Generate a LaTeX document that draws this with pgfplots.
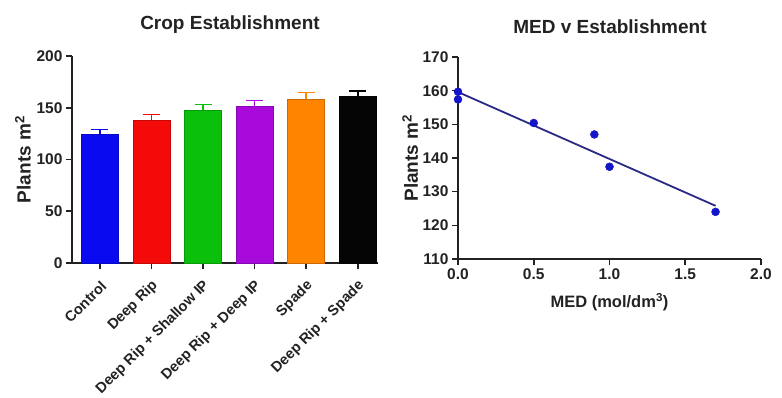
\documentclass[border=0pt]{standalone}
\usepackage{pgfplots}
\pgfplotsset{compat=1.18}
\usepackage{fontspec}
\setmainfont{Liberation Sans}
\definecolor{txt}{HTML}{222222}
\definecolor{cblue}{HTML}{0A0AF0}
\definecolor{cred}{HTML}{F50A0A}
\definecolor{cgreen}{HTML}{0AC00A}
\definecolor{cpurple}{HTML}{A80ADC}
\definecolor{corange}{HTML}{FF8400}
\definecolor{cblack}{HTML}{050505}
\definecolor{cline}{HTML}{2A2A86}
\definecolor{cdot}{HTML}{1414C8}
\begin{document}
\begin{tikzpicture}
\useasboundingbox (0pt,0pt) rectangle (782pt,397pt);
\pgfplotsset{
  gp/.style={scale only axis, axis x line*=bottom, axis y line*=left,
    axis line style={-, line width=1.8pt, color=txt},
    every outer x axis line/.append style={-}, every outer y axis line/.append style={-},
    tick style={line width=1.6pt, color=txt}, major tick length=6pt, tick align=outside,
    ticklabel style={font=\fontsize{15.5}{16}\selectfont\bfseries, text=txt},
    /pgf/number format/assume math mode=true, clip=false},
  gbar/.style={ybar, bar shift=0pt, bar width=37pt, fill=#1, draw=#1!80!black, line width=0.8pt,
    error bars/.cd, y dir=plus, y explicit,
    error bar style={#1, line width=1.6pt, solid},
    error mark options={rotate=90, mark size=8.5pt, line width=1.6pt, #1}}
}
\begin{axis}[gp, at={(72pt,134pt)}, anchor=south west, width=306pt, height=207pt,
  xmin=-0.54, xmax=5.39, ymin=0, ymax=200, ytick={0,50,100,150,200},
  xtick={0,1,2,3,4,5},
  xticklabels={Control, Deep Rip, Deep Rip + Shallow IP, Deep Rip + Deep IP, Spade, Deep Rip + Spade},
  xticklabel style={rotate=45, anchor=east, xshift=-4pt, yshift=-13pt, font=\fontsize{14.6}{15}\selectfont\bfseries},
  ylabel={Plants m\textsuperscript{2}},
  every axis y label/.style={at={(axis description cs:-0.16,0.5)}, rotate=90, anchor=center, font=\fontsize{19}{20}\selectfont\bfseries, text=txt}]
\addplot[gbar=cblue] coordinates {(0,124.5) +- (0,4.5)};
\addplot[gbar=cred] coordinates {(1,138) +- (0,5.5)};
\addplot[gbar=cgreen] coordinates {(2,147.8) +- (0,5.3)};
\addplot[gbar=cpurple] coordinates {(3,151) +- (0,6)};
\addplot[gbar=corange] coordinates {(4,158.4) +- (0,6.2)};
\addplot[gbar=cblack] coordinates {(5,160.7) +- (0,5.3)};
\end{axis}
\node[font=\fontsize{19}{20}\selectfont\bfseries, text=txt] at (230pt,372pt) {Crop Establishment};
\begin{axis}[gp, at={(458pt,138pt)}, anchor=south west, width=303pt, height=202pt,
  xmin=0, xmax=2, ymin=110, ymax=170,
  xtick={0,0.5,1,1.5,2}, ytick={110,120,130,140,150,160,170},
  x tick label style={/pgf/number format/fixed, /pgf/number format/fixed zerofill, /pgf/number format/precision=1},
  xlabel={MED (mol/dm\textsuperscript{3})},
  ylabel={Plants m\textsuperscript{2}},
  every axis x label/.style={at={(axis description cs:0.5,-0.213)}, anchor=center, font=\fontsize{16.5}{17}\selectfont\bfseries, text=txt},
  every axis y label/.style={at={(axis description cs:-0.158,0.5)}, rotate=90, anchor=center, font=\fontsize{19}{20}\selectfont\bfseries, text=txt}]
\addplot[cline, line width=1.8pt] coordinates {(0,159.6) (1.7,125.8)};
\addplot[only marks, mark=*, mark size=4pt, color=cdot] coordinates {
(0,159.7) (0,157.4) (0.5,150.4) (0.9,147) (1.0,137.4) (1.7,124)};
\end{axis}
\node[font=\fontsize{19}{20}\selectfont\bfseries, text=txt] at (610pt,370pt) {MED v Establishment};
\end{tikzpicture}
\end{document}
